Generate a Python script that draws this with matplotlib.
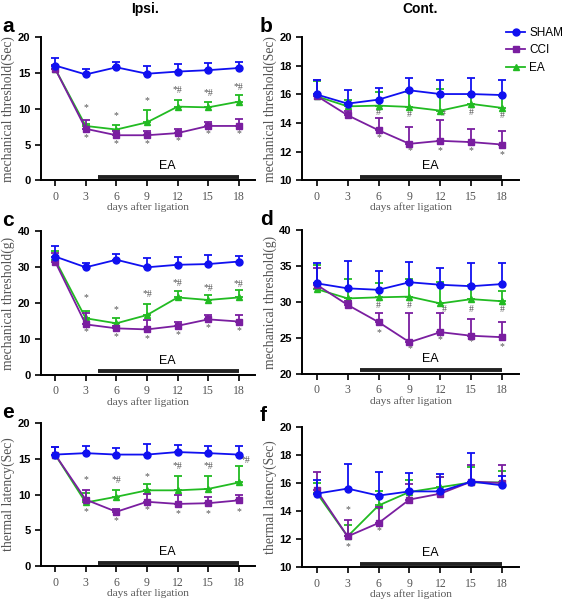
import matplotlib
matplotlib.use('Agg')
import matplotlib.pyplot as plt
from matplotlib.lines import Line2D
import numpy as np

days = [0, 3, 6, 9, 12, 15, 18]

# panel a: mechanical threshold (Sec), ipsi
sham_a = [16.05, 14.8, 15.8, 14.9, 15.2, 15.4, 15.7]
sham_a_err = [1.0, 0.7, 0.7, 1.15, 1.1, 1.0, 0.8]
cci_a = [15.6, 7.2, 6.3, 6.3, 6.6, 7.6, 7.6]
cci_a_err = [0.5, 1.2, 0.6, 0.6, 0.6, 0.6, 1.0]
ea_a = [15.6, 7.6, 7.1, 8.1, 10.3, 10.2, 11.0]
ea_a_err = [0.5, 0.3, 0.7, 1.7, 0.9, 0.7, 0.9]

# panel b: mechanical threshold (Sec), cont.
sham_b = [16.0, 15.36, 15.64, 16.29, 16.03, 16.03, 15.96]
sham_b_err = [1.0, 0.97, 0.8, 0.86, 0.95, 1.09, 1.07]
cci_b = [15.9, 14.55, 13.5, 12.55, 12.76, 12.67, 12.5]
cci_b_err = [1.1, 0.3, 0.86, 1.19, 1.44, 0.93, 0.93]
ea_b = [15.87, 15.17, 15.22, 15.13, 14.87, 15.34, 15.06]
ea_b_err = [1.1, 0.45, 0.93, 1.02, 1.51, 0.6, 0.81]

# panel c: mechanical threshold (g), ipsi
sham_c = [33.0, 30.0, 32.1, 30.0, 30.7, 30.9, 31.6]
sham_c_err = [2.8, 1.3, 1.7, 2.6, 2.1, 2.6, 1.6]
cci_c = [31.6, 14.1, 13.0, 12.7, 13.7, 15.5, 14.9]
cci_c_err = [2.5, 3.1, 0.7, 2.5, 1.2, 1.2, 1.8]
ea_c = [32.1, 15.8, 14.4, 16.7, 21.6, 20.9, 21.6]
ea_c_err = [2.3, 1.9, 1.6, 3.0, 1.7, 1.4, 2.1]

# panel d: mechanical threshold (g), cont.
sham_d = [32.6, 31.9, 31.7, 32.75, 32.4, 32.2, 32.5]
sham_d_err = [2.9, 3.85, 2.6, 2.85, 2.3, 3.3, 3.0]
cci_d = [32.4, 29.6, 27.2, 24.4, 25.8, 25.3, 25.1]
cci_d_err = [2.3, 0.5, 1.3, 4.1, 2.7, 2.4, 2.1]
ea_d = [31.8, 30.5, 30.65, 30.75, 29.8, 30.4, 30.1]
ea_d_err = [3.35, 2.7, 1.95, 2.45, 2.95, 2.0, 1.45]

# panel e: thermal latency, ipsi
sham_e = [15.6, 15.8, 15.6, 15.6, 15.95, 15.8, 15.6]
sham_e_err = [1.05, 1.0, 0.9, 1.5, 1.05, 1.0, 1.2]
cci_e = [15.6, 9.3, 7.6, 9.0, 8.7, 8.8, 9.2]
cci_e_err = [1.05, 1.3, 0.4, 1.1, 1.2, 0.9, 0.7]
ea_e = [15.6, 8.9, 9.7, 10.6, 10.6, 10.8, 11.7]
ea_e_err = [1.0, 1.3, 0.9, 0.9, 2.0, 1.8, 2.3]

# panel f: thermal latency, cont.
sham_f = [15.24, 15.6, 15.1, 15.4, 15.4, 16.1, 15.83]
sham_f_err = [0.96, 1.72, 1.66, 1.3, 1.22, 2.06, 0.67]
cci_f = [15.48, 12.2, 13.15, 14.82, 15.24, 16.1, 16.0]
cci_f_err = [1.3, 1.16, 1.15, 1.08, 1.16, 1.2, 1.3]
ea_f = [15.3, 12.2, 14.4, 15.36, 15.7, 16.04, 16.04]
ea_f_err = [0.7, 0.8, 1.0, 0.84, 0.7, 1.06, 0.84]

# significance marks: (day, value, text)
marks_a = [(3, 10.2, '*'), (3, 5.9, '*'), (6, 9.0, '*'), (6, 5.1, '*'), (9, 11.2, '*'), (9, 5.1, '*'),
           (12, 12.5, '*#'), (12, 5.6, '*'), (15, 12.2, '*#'), (15, 6.5, '*'), (18, 13.0, '*#'), (18, 6.5, '*')]
marks_b = [(6, 14.75, '#'), (9, 14.6, '#'), (12.3, 14.66, '#'), (15, 14.75, '#'), (18, 14.5, '#'),
           (6, 13.0, '*'), (9, 12.1, '*'), (12, 12.1, '*'), (15, 12.1, '*'), (18, 11.8, '*')]
marks_c = [(3, 21.6, '*'), (3, 12.1, '*'), (6, 18.1, '*'), (6, 10.7, '*'), (9, 22.5, '*#'), (9, 10.2, '*'),
           (12, 25.6, '*#'), (12, 11.3, '*'), (15, 24.2, '*#'), (15, 13.2, '*'), (18, 25.1, '*#'), (18, 12.3, '*')]
marks_d = [(6, 29.5, '#'), (9, 29.5, '#'), (12.4, 29.0, '#'), (15, 29.0, '#'), (18, 29.0, '#'),
           (6, 25.8, '*'), (9, 23.5, '*'), (12, 24.7, '*'), (15, 24.5, '*'), (18, 23.8, '*')]
marks_e = [(3, 12.1, '*'), (3, 7.6, '*'), (6, 12.0, '*#'), (6, 6.3, '*'), (9, 12.5, '*'), (9, 7.9, '*'),
           (12, 13.9, '*#'), (12, 7.3, '*'), (15, 14.0, '*#'), (15, 7.3, '*'), (18.6, 14.8, '*#'), (18, 7.6, '*')]
marks_f = [(3, 14.1, '*'), (3, 11.5, '*'), (6, 12.6, '*')]

SHAM_C = '#1010f0'
CCI_C = '#7a1ea0'
EA_C = '#22bb22'
GREY = '#555555'
SERIF = 'Liberation Serif'
SANS = 'Liberation Sans'

fig = plt.figure(figsize=(5.67, 6.01), dpi=100)

panels = [
    ('a', [0.072, 0.700, 0.378, 0.238], (0, 20), [0, 5, 10, 15, 20], 'mechanical threshold(Sec)',
     sham_a, sham_a_err, cci_a, cci_a_err, ea_a, ea_a_err, marks_a),
    ('b', [0.533, 0.700, 0.382, 0.238], (10, 20), [10, 12, 14, 16, 18, 20], 'mechanical threshold(Sec)',
     sham_b, sham_b_err, cci_b, cci_b_err, ea_b, ea_b_err, marks_b),
    ('c', [0.072, 0.376, 0.378, 0.239], (0, 40), [0, 10, 20, 30, 40], 'mechanical threshold(g)',
     sham_c, sham_c_err, cci_c, cci_c_err, ea_c, ea_c_err, marks_c),
    ('d', [0.533, 0.378, 0.382, 0.239], (20, 40), [20, 25, 30, 35, 40], 'mechanical threshold(g)',
     sham_d, sham_d_err, cci_d, cci_d_err, ea_d, ea_d_err, marks_d),
    ('e', [0.072, 0.058, 0.378, 0.238], (0, 20), [0, 5, 10, 15, 20], 'thermal latency(Sec)',
     sham_e, sham_e_err, cci_e, cci_e_err, ea_e, ea_e_err, marks_e),
    ('f', [0.533, 0.056, 0.382, 0.234], (10, 20), [10, 12, 14, 16, 18, 20], 'thermal latency(Sec)',
     sham_f, sham_f_err, cci_f, cci_f_err, ea_f, ea_f_err, marks_f),
]

for (letter, rect, ylim, yticks, ylabel, sh, she, cc, cce, ea, eae, marks) in panels:
    ax = fig.add_axes(rect)
    zero = np.zeros(len(days))
    # draw EA first, then CCI, then SHAM on top
    ax.errorbar(days, ea, yerr=[zero, eae], color=EA_C, marker='^', ms=4.5, lw=1.3,
                capsize=3, capthick=1.3, elinewidth=1.3, zorder=3)
    ax.errorbar(days, cc, yerr=[zero, cce], color=CCI_C, marker='s', ms=5, lw=1.3,
                capsize=3, capthick=1.3, elinewidth=1.3, zorder=4)
    ax.errorbar(days, sh, yerr=[zero, she], color=SHAM_C, marker='o', ms=5, lw=1.3,
                capsize=3, capthick=1.3, elinewidth=1.3, zorder=5)

    for d, v, t in marks:
        ax.text(d, v, t, ha='center', va='center', fontsize=7, color=GREY, family=SERIF)

    # EA treatment bar
    ax.plot([4.2, 18], [0.025, 0.025], color='#222222', lw=2.8, solid_capstyle='butt',
            transform=ax.get_xaxis_transform(), clip_on=False, zorder=6)
    ax.text(11, 0.1, 'EA', transform=ax.get_xaxis_transform(), ha='center', va='center',
            fontsize=9, family=SANS)

    ax.set_xlim(-1.4, 19.6)
    ax.set_ylim(*ylim)
    ax.set_xticks(days)
    ax.set_yticks(yticks)
    ax.spines['top'].set_visible(False)
    ax.spines['right'].set_visible(False)
    ax.spines['left'].set_linewidth(1.4)
    ax.spines['bottom'].set_linewidth(1.4)
    ax.tick_params(direction='out', length=4, width=1.2)
    for lab in ax.get_yticklabels():
        lab.set_family(SANS)
        lab.set_fontweight('bold')
        lab.set_fontsize(8)
    for lab in ax.get_xticklabels():
        lab.set_family(SERIF)
        lab.set_fontsize(8.5)
        lab.set_color(GREY)
    ax.set_xlabel('days after ligation', family=SERIF, fontsize=8.2, color=GREY, labelpad=0)
    ax.set_ylabel(ylabel, family=SERIF, fontsize=9.8, color=GREY, labelpad=2)

    lx = 0.004 if letter in 'ace' else 0.458
    ly = rect[1] + rect[3] + 0.018
    fig.text(lx, ly, letter, fontsize=15, fontweight='bold', family=SANS, va='center')

fig.text(0.256, 0.985, 'Ipsi.', fontsize=10, fontweight='bold', family=SANS, ha='center', va='center')
fig.text(0.741, 0.985, 'Cont.', fontsize=10, fontweight='bold', family=SANS, ha='center', va='center')

handles = [Line2D([], [], color=SHAM_C, marker='o', ms=5, lw=1.3),
           Line2D([], [], color=CCI_C, marker='s', ms=5, lw=1.3),
           Line2D([], [], color=EA_C, marker='^', ms=4.5, lw=1.3)]
fig.legend(handles, ['SHAM', 'CCI', 'EA'], loc='upper left', bbox_to_anchor=(0.893, 0.955),
           frameon=False, handlelength=1.6, handletextpad=0.35, labelspacing=0.45,
           borderaxespad=0, borderpad=0, prop={'family': SANS, 'size': 8.5})

fig.savefig('out.png', dpi=100)
